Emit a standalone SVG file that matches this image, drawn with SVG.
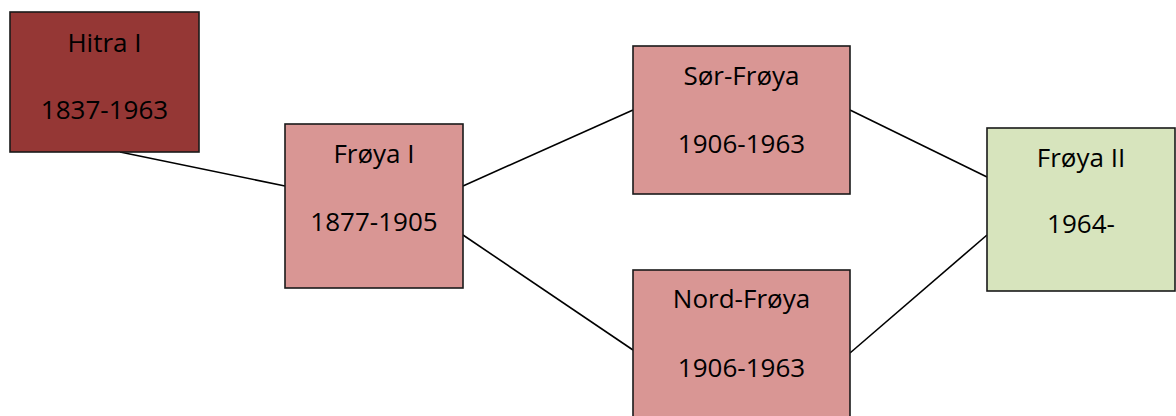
<svg xmlns="http://www.w3.org/2000/svg" width="1176" height="416" viewBox="0 0 1176 416">
<style>
.box{stroke:#1a1a1a;stroke-width:1.6}
.dark{fill:#953735}
.pink{fill:#D99694}
.green{fill:#D7E4BD}
text{font-family:"Open Sans","Liberation Sans",sans-serif;font-size:26px;fill:#000;text-anchor:middle}
.conn line{stroke:#000;stroke-width:1.6}
</style>
<rect width="1176" height="416" fill="#fff"/>
<g class="conn" id="connectors">
<line x1="120" y1="152" x2="285" y2="186"/>
<line x1="463" y1="186" x2="633" y2="110"/>
<line x1="463" y1="235" x2="633" y2="350"/>
<line x1="850" y1="110" x2="987" y2="177"/>
<line x1="850" y1="353" x2="987" y2="235"/>
</g>
<g id="hitra1">
<rect class="box dark" x="10" y="12" width="189" height="140"/>
<text x="104.5" y="52">Hitra I</text>
<text x="104.5" y="119">1837-1963</text>
</g>
<g id="froya1">
<rect class="box pink" x="285" y="124" width="178" height="164"/>
<text x="374" y="163">Frøya I</text>
<text x="374" y="231">1877-1905</text>
</g>
<g id="sorfroya">
<rect class="box pink" x="633" y="46" width="217" height="148"/>
<text x="741.5" y="85">Sør-Frøya</text>
<text x="741.5" y="153">1906-1963</text>
</g>
<g id="nordfroya">
<rect class="box pink" x="633" y="270" width="217" height="160"/>
<text x="741.5" y="308">Nord-Frøya</text>
<text x="741.5" y="377">1906-1963</text>
</g>
<g id="froya2">
<rect class="box green" x="987" y="128" width="188" height="163"/>
<text x="1081" y="167">Frøya II</text>
<text x="1081" y="233">1964-</text>
</g>
</svg>
